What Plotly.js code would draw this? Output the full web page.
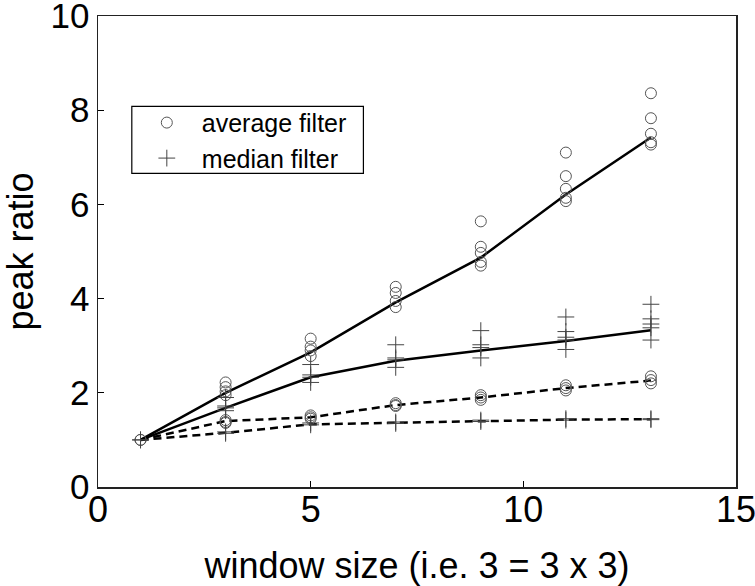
<!DOCTYPE html>
<html>
<head>
<meta charset="utf-8">
<script src="https://cdn.plot.ly/plotly-3.0.1.min.js"></script>
<style>html,body{margin:0;padding:0;background:#fff;}#chart{width:755px;height:586px;}</style>
</head>
<body>
<div id="chart"></div>
<script>
// window sizes
var windowSizes = [1, 3, 5, 7, 9, 11, 13];

// average filter samples (solid curve group)
var avgSolidSamples = [
  [1.0],
  [2.22, 2.12, 2.03, 1.95],
  [3.15, 2.98, 2.9, 2.78],
  [4.25, 4.12, 3.95, 3.82],
  [5.64, 5.1, 4.97, 4.78, 4.7],
  [7.1, 6.6, 6.33, 6.14, 6.07],
  [8.36, 7.83, 7.5, 7.32, 7.27]
];
var avgSolidLine = [1.0, 2.0, 2.86, 3.92, 4.87, 6.21, 7.42];

// median filter samples (solid curve group)
var medSolidSamples = [
  [1.0],
  [1.9, 1.72, 1.68, 1.62],
  [2.6, 2.38, 2.33, 2.22],
  [3.02, 2.74, 2.7, 2.54],
  [3.32, 3.02, 2.96, 2.74],
  [3.61, 3.3, 3.18, 3.12, 2.92],
  [3.88, 3.57, 3.46, 3.38, 3.12]
];
var medSolidLine = [1.0, 1.68, 2.33, 2.68, 2.9, 3.1, 3.33];

// average filter samples (dashed curve group)
var avgDashSamples = [
  [1.0],
  [1.42, 1.38, 1.36],
  [1.52, 1.48, 1.45],
  [1.78, 1.74, 1.72],
  [1.95, 1.9, 1.85],
  [2.16, 2.1, 2.05],
  [2.35, 2.27, 2.2]
];
var avgDashLine = [1.0, 1.4, 1.48, 1.74, 1.9, 2.1, 2.26];

// median filter samples (dashed curve group)
var medDashSamples = [
  [1.0],
  [1.17, 1.14],
  [1.36, 1.32],
  [1.38, 1.35],
  [1.42, 1.39],
  [1.45, 1.42],
  [1.45, 1.43]
];
var medDashLine = [1.0, 1.15, 1.33, 1.36, 1.4, 1.43, 1.44];

var xTickVals = [0, 5, 10, 15];
var yTickVals = [0, 2, 4, 6, 8, 10];
var legendNames = ['average filter', 'median filter'];
var xTitle = 'window size (i.e. 3 = 3 x 3)';
var yTitle = 'peak ratio';

function flatten(samples) {
  var xs = [], ys = [];
  samples.forEach(function (arr, i) {
    arr.forEach(function (v) { xs.push(windowSizes[i]); ys.push(v); });
  });
  return {x: xs, y: ys};
}

var FONT = 'Liberation Sans, Arial, sans-serif';
var circleMarker = {symbol: 'circle-open', size: 11, color: '#555', line: {width: 1, color: '#555'}};
var plusMarker = {symbol: 'cross-thin-open', size: 12, color: '#444', line: {width: 1, color: '#444'}};

var a1 = flatten(avgSolidSamples), a2 = flatten(avgDashSamples);
var m1 = flatten(medSolidSamples), m2 = flatten(medDashSamples);

var traces = [
  {x: windowSizes, y: avgSolidLine, mode: 'lines', line: {color: '#000', width: 2.5}, showlegend: false},
  {x: windowSizes, y: medSolidLine, mode: 'lines', line: {color: '#000', width: 2.5}, showlegend: false},
  {x: windowSizes, y: avgDashLine, mode: 'lines', line: {color: '#000', width: 2.5, dash: '8px,5px'}, showlegend: false},
  {x: windowSizes, y: medDashLine, mode: 'lines', line: {color: '#000', width: 2.5, dash: '8px,5px'}, showlegend: false},
  {x: a1.x.concat(a2.x), y: a1.y.concat(a2.y), mode: 'markers', name: legendNames[0], marker: circleMarker},
  {x: m1.x.concat(m2.x), y: m1.y.concat(m2.y), mode: 'markers', name: legendNames[1], marker: plusMarker}
];

var layout = {
  width: 755, height: 586,
  margin: {l: 98, r: 19, t: 16, b: 99},
  paper_bgcolor: '#fff', plot_bgcolor: '#fff',
  font: {family: FONT, color: '#000'},
  showlegend: true,
  legend: {
    x: 0.053, y: 0.822, xanchor: 'left', yanchor: 'top',
    bgcolor: 'rgba(0,0,0,0)', borderwidth: 0,
    font: {size: 25, family: FONT},
    itemwidth: 60
  },
  shapes: [{
    type: 'rect', xref: 'paper', yref: 'paper',
    x0: 0.053, x1: 0.416, y0: 0.666, y1: 0.808,
    line: {color: '#000', width: 1.2}, fillcolor: 'rgba(0,0,0,0)', layer: 'above'
  }],
  xaxis: {
    range: [0, 15], tickvals: xTickVals, ticks: 'inside', ticklen: 6, tickcolor: '#000',
    showgrid: false, zeroline: false, showline: true, linecolor: '#222', linewidth: 1.5, mirror: true,
    tickfont: {size: 36, family: FONT}, ticklabeloverflow: 'allow', ticklabelstandoff: -10,
    title: {text: xTitle, font: {size: 36, family: FONT}, standoff: 24}
  },
  yaxis: {
    range: [0, 10], tickvals: yTickVals, ticks: 'inside', ticklen: 6, tickcolor: '#000',
    showgrid: false, zeroline: false, showline: true, linecolor: '#222', linewidth: 1.5, mirror: true,
    tickfont: {size: 35, family: FONT}, ticklabeloverflow: 'allow',
    title: {text: yTitle, font: {size: 36, family: FONT}, standoff: 34}
  }
};

Plotly.newPlot('chart', traces, layout, {displayModeBar: false, staticPlot: true});
</script>
</body>
</html>
